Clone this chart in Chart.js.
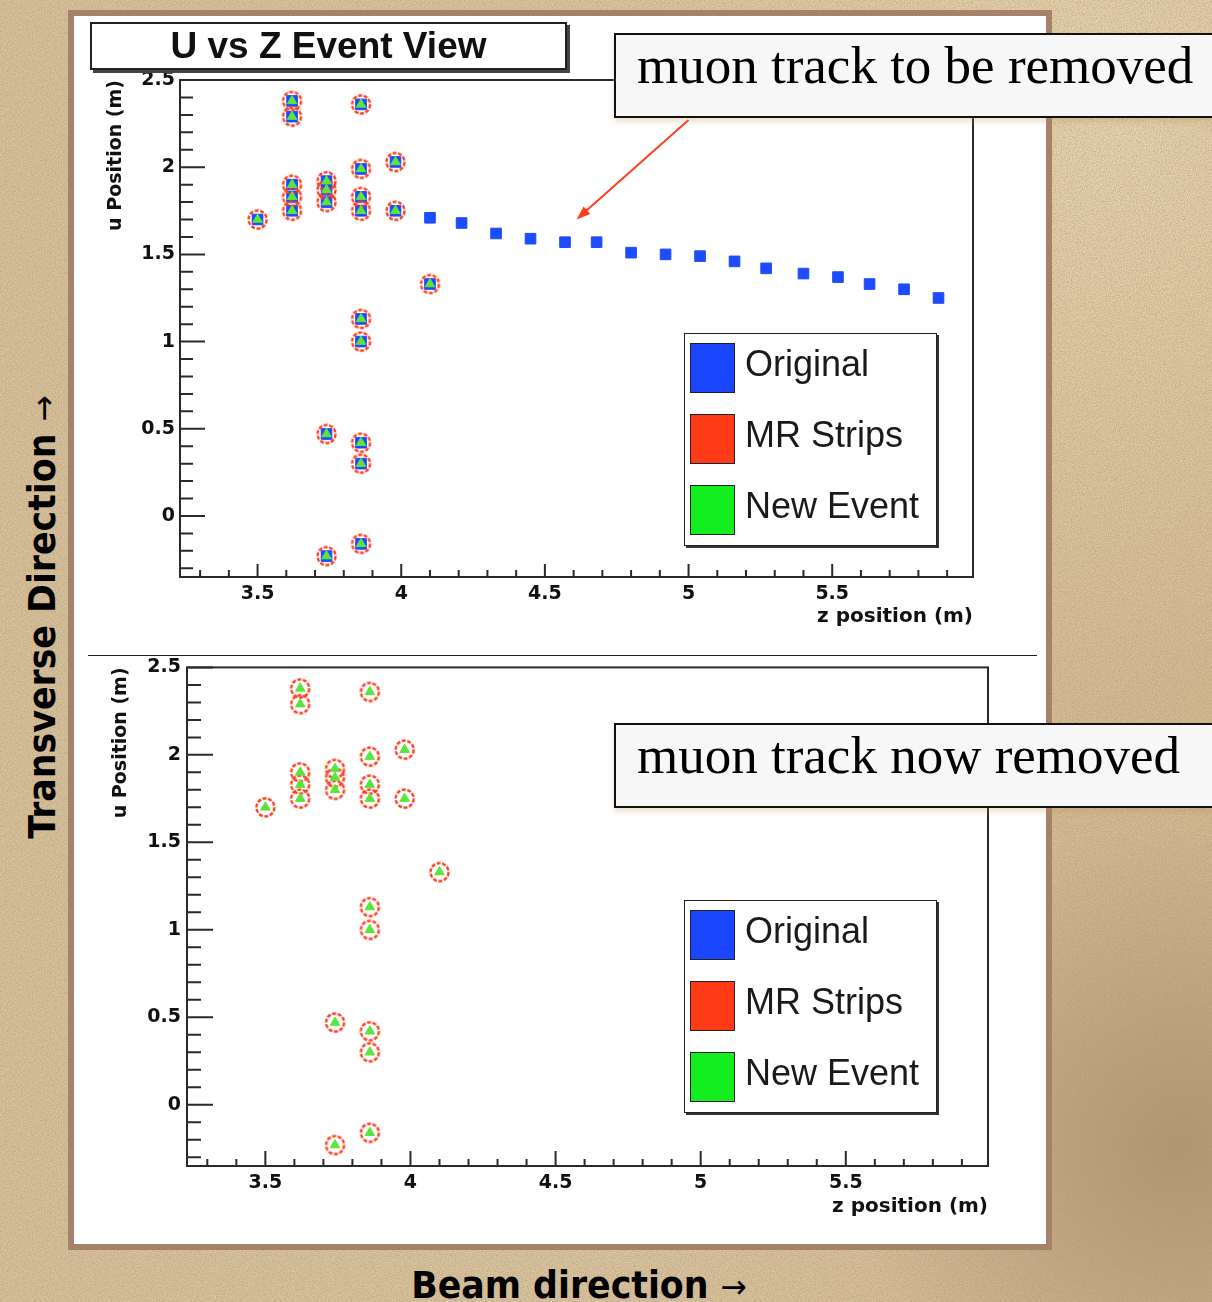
<!DOCTYPE html>
<html>
<head>
<meta charset="utf-8">
<title>U vs Z Event View</title>
<script src="https://cdn.jsdelivr.net/npm/chart.js@4.4.1/dist/chart.umd.min.js"></script>
<style>
  html, body { margin: 0; padding: 0; }
  body {
    width: 1212px; height: 1302px; position: relative; overflow: hidden;
    background-color: #d7c09a;
    background-image:
      url("data:image/svg+xml,<svg xmlns='http://www.w3.org/2000/svg' width='240' height='240'><filter id='f'><feTurbulence type='fractalNoise' baseFrequency='0.8' numOctaves='3' stitchTiles='stitch'/><feColorMatrix type='matrix' values='0 0 0 0 0.42  0 0 0 0 0.3  0 0 0 0 0.17  0 0 0 1.1 -0.36'/></filter><rect width='240' height='240' filter='url(%23f)'/></svg>"),
      radial-gradient(ellipse at 92% 8%, rgba(238,220,186,0.8), rgba(238,220,186,0) 35%),
      radial-gradient(ellipse at 97% 88%, rgba(110,82,55,0.35), rgba(110,82,55,0) 20%),
      linear-gradient(90deg, #d8c29c, #dbc5a1 50%, #d3bb93);
  }
  .panel {
    position: absolute; left: 68px; top: 10px; width: 972px; height: 1228px;
    background: #fff; border: 6px solid #a7826a;
  }
  .divider {
    position: absolute; left: 88px; top: 655px; width: 949px; height: 0;
    border-top: 1.5px solid #222;
  }
  canvas { position: absolute; }
  #topChart { left: 75px; top: 16px; }
  #bottomChart { left: 75px; top: 650px; }
  .title-box {
    position: absolute; left: 90px; top: 22px; width: 477px; height: 48px;
    box-sizing: border-box; border: 2px solid #222; box-shadow: 3px 3px 0 #444;
    background: #fff; text-align: center;
    font: bold 37px 'Liberation Sans', Arial, sans-serif; line-height: 44px; color: #111;
  }
  .note {
    position: absolute; left: 614px; width: 640px; height: 85px; box-sizing: border-box;
    border: 2.5px solid #111; background: #f7f7f7;
    box-shadow: 0 4px 5px rgba(190, 140, 70, 0.25);
    padding-left: 21px; line-height: 80px; white-space: nowrap;
    font: 53px 'Liberation Serif', 'Times New Roman', serif; color: #000;
  }
  .legend {
    position: absolute; left: 684px; width: 253px; height: 213px; box-sizing: border-box;
    border: 1.5px solid #222; box-shadow: 2px 2px 0 #333; background: #fff;
  }
  .entry { position: absolute; left: 5px; height: 50px; }
  .swatch {
    position: absolute; left: 0; top: 0; width: 45px; height: 50px; box-sizing: border-box;
    border: 1.5px solid #222;
  }
  .label {
    position: absolute; left: 55px; top: 0; line-height: 50px; white-space: nowrap;
    font: 36px 'Liberation Sans', Arial, sans-serif; color: #1a1a1a;
  }
  .side {
    position: absolute; white-space: nowrap; color: #000;
    font: bold 37px 'DejaVu Sans', Verdana, sans-serif;
  }
  .side .arr { font-weight: normal; font-size: 0.9em; }
  #transverse { left: 42px; top: 617px; transform: translate(-50%, -50%) rotate(-90deg) scaleX(0.94); }
  #beam { left: 579px; top: 1285px; transform: translate(-50%, -50%) scaleX(0.94); }
</style>
</head>
<body>
<div class="panel"></div>
<div class="divider"></div>
<canvas id="topChart" width="970" height="636"></canvas>
<canvas id="bottomChart" width="970" height="593"></canvas>
<div class="title-box">U vs Z Event View</div>
<div class="legend" id="topLegend" style="top:333px"></div>
<div class="legend" id="bottomLegend" style="top:900px"></div>
<div class="note" style="top:33px">muon track to be removed</div>
<div class="note" style="top:723px">muon track now removed</div>
<div class="side" id="transverse">Transverse Direction <span class="arr">→</span></div>
<div class="side" id="beam">Beam direction <span class="arr">→</span></div>

<script>
// strip hits of the neutrino event: z along the beam, u across it (metres)
const hitZ = [3.50, 3.62, 3.62, 3.62, 3.62, 3.62, 3.74, 3.74, 3.74, 3.74, 3.74,
              3.86, 3.86, 3.86, 3.86, 3.86, 3.86, 3.86, 3.86, 3.86, 3.98, 3.98, 4.10];
const hitU = [1.70, 2.38, 2.29, 1.90, 1.83, 1.75, 1.92, 1.87, 1.80, 0.47, -0.23,
              2.36, 1.99, 1.83, 1.75, 1.13, 1.00, 0.42, 0.30, -0.16, 2.03, 1.75, 1.33];
// the muon track, one hit per plane
const trackZ = [4.10, 4.21, 4.33, 4.45, 4.57, 4.68, 4.80, 4.92, 5.04, 5.16, 5.27, 5.40, 5.52, 5.63, 5.75, 5.87];
const trackU = [1.71, 1.68, 1.62, 1.59, 1.57, 1.57, 1.51, 1.50, 1.49, 1.46, 1.42, 1.39, 1.37, 1.33, 1.30, 1.25];

const seriesNames = ["Original", "MR Strips", "New Event"];
const legendColors = ["#1b46ff", "#ff3a16", "#14ee1e"];
const markerColors = ["#1d4cff", "#ff3d1c", "#5ee23c"];

const zTicks = [3.5, 4, 4.5, 5, 5.5];
const uTicks = [0, 0.5, 1, 1.5, 2, 2.5];
const zRange = [3.23, 5.99];
const uRange = [-0.35, 2.5];

const pairs = (xs, ys) => xs.map((x, i) => ({ x: x, y: ys[i] }));

// open circle marker with a broken outline
function ringMarker(color, r) {
    const c = document.createElement("canvas");
    const s = Math.ceil(r * 2 + 5);
    c.width = s;
    c.height = s;
    const g = c.getContext("2d");
    g.strokeStyle = color;
    g.lineWidth = 2.4;
    g.setLineDash([4, 1.6]);
    g.beginPath();
    g.arc(s / 2, s / 2, r, 0, Math.PI * 2);
    g.stroke();
    return c;
}
const ring = ringMarker(markerColors[1], 9);

// frame box plus inward major/minor ticks, drawn from the scales
const frameTicks = {
    id: "frameTicks",
    beforeDatasetsDraw(chart, args, opts) {
        const { ctx, chartArea: a, scales } = chart;
        ctx.save();
        ctx.strokeStyle = "#2a2a2a";
        ctx.lineWidth = 2;
        ctx.strokeRect(a.left, a.top, a.right - a.left, a.bottom - a.top);
        ctx.beginPath();
        const xs = scales.x;
        for (let k = Math.ceil(xs.min * 10); k <= Math.floor(xs.max * 10); k++) {
            const px = xs.getPixelForValue(k / 10);
            const len = k % 5 === 0 ? opts.xMajor : opts.xMinor;
            ctx.moveTo(px, a.bottom);
            ctx.lineTo(px, a.bottom - len);
        }
        const ys = scales.y;
        for (let k = Math.ceil(ys.min * 10); k <= Math.floor(ys.max * 10); k++) {
            const py = ys.getPixelForValue(k / 10);
            const len = k % 5 === 0 ? opts.yMajor : opts.yMinor;
            ctx.moveTo(a.left, py);
            ctx.lineTo(a.left + len, py);
        }
        ctx.stroke();
        ctx.restore();
    },
    afterDatasetsDraw(chart, args, opts) {
        if (!opts.arrow) return;
        const { ctx, scales } = chart;
        const x0 = scales.x.getPixelForValue(opts.arrow.from[0]);
        const y0 = scales.y.getPixelForValue(opts.arrow.from[1]);
        const x1 = scales.x.getPixelForValue(opts.arrow.to[0]);
        const y1 = scales.y.getPixelForValue(opts.arrow.to[1]);
        const ang = Math.atan2(y1 - y0, x1 - x0);
        ctx.save();
        ctx.strokeStyle = "#ff3d1f";
        ctx.fillStyle = "#ff3d1f";
        ctx.lineWidth = 2;
        ctx.beginPath();
        ctx.moveTo(x0, y0);
        ctx.lineTo(x1 - 10 * Math.cos(ang), y1 - 10 * Math.sin(ang));
        ctx.stroke();
        ctx.beginPath();
        ctx.moveTo(x1, y1);
        ctx.lineTo(x1 - 14 * Math.cos(ang) + 5 * Math.sin(ang), y1 - 14 * Math.sin(ang) - 5 * Math.cos(ang));
        ctx.lineTo(x1 - 14 * Math.cos(ang) - 5 * Math.sin(ang), y1 - 14 * Math.sin(ang) + 5 * Math.cos(ang));
        ctx.closePath();
        ctx.fill();
        ctx.restore();
    }
};

function makeDatasets(withTrack) {
    return [
        {
            label: seriesNames[0],
            legendColor: legendColors[0],
            data: withTrack ? pairs(hitZ.concat(trackZ), hitU.concat(trackU)) : [],
            pointStyle: "rect",
            pointRadius: 7.5,
            backgroundColor: markerColors[0],
            borderColor: markerColors[0],
            borderWidth: 1,
            order: 3
        },
        {
            label: seriesNames[1],
            legendColor: legendColors[1],
            data: pairs(hitZ, hitU),
            pointStyle: ring,
            pointRadius: 9,
            backgroundColor: "rgba(0,0,0,0)",
            borderColor: markerColors[1],
            order: 2
        },
        {
            label: seriesNames[2],
            legendColor: legendColors[2],
            data: pairs(hitZ, hitU),
            pointStyle: "triangle",
            pointRadius: 5.5,
            backgroundColor: markerColors[2],
            borderColor: markerColors[2],
            borderWidth: 1,
            order: 1
        }
    ];
}

const tickFont = { family: "'DejaVu Sans', sans-serif", weight: "bold", size: 19 };
const plainNumber = (v) => String(v);

function makeChart(id, datasets, g) {
    return new Chart(document.getElementById(id), {
        type: "scatter",
        data: { datasets: datasets },
        options: {
            responsive: false,
            animation: false,
            devicePixelRatio: 1,
            events: [],
            layout: { padding: { top: g.top, right: g.right, left: 0, bottom: 0 } },
            scales: {
                x: {
                    type: "linear",
                    position: "bottom",
                    min: zRange[0],
                    max: zRange[1],
                    grid: { display: false, drawTicks: false },
                    border: { display: false },
                    ticks: { padding: 6, font: tickFont, color: "#111", maxRotation: 0, autoSkip: false, callback: plainNumber },
                    afterBuildTicks: (s) => { s.ticks = zTicks.map((v) => ({ value: v })); },
                    afterFit: (s) => { s.height = g.xAxisH; },
                    title: {
                        display: true,
                        text: "z position (m)",
                        align: "end",
                        color: "#111",
                        font: { family: "'DejaVu Sans', sans-serif", weight: "bold", size: 20 },
                        padding: { top: 0, bottom: g.xTitlePad }
                    }
                },
                y: {
                    type: "linear",
                    position: "left",
                    min: uRange[0],
                    max: uRange[1],
                    grid: { display: false, drawTicks: false },
                    border: { display: false },
                    ticks: { padding: g.yLabelPad, font: tickFont, color: "#111", autoSkip: false, callback: plainNumber },
                    afterBuildTicks: (s) => { s.ticks = uTicks.map((v) => ({ value: v })); },
                    afterFit: (s) => { s.width = g.yAxisW; },
                    title: {
                        display: true,
                        text: "u Position (m)",
                        align: "end",
                        color: "#111",
                        font: { family: "'DejaVu Sans', sans-serif", weight: "bold", size: 19 },
                        padding: g.yTitlePad
                    }
                }
            },
            plugins: {
                legend: { display: false },
                tooltip: { enabled: false },
                frameTicks: g.ticks
            }
        },
        plugins: [frameTicks]
    });
}

function buildLegend(chart, boxId) {
    const box = document.getElementById(boxId);
    chart.data.datasets.forEach((ds, i) => {
        const row = document.createElement("div");
        row.className = "entry";
        row.style.top = (9 + i * 71) + "px";
        const sw = document.createElement("span");
        sw.className = "swatch";
        sw.style.background = ds.legendColor;
        const tx = document.createElement("span");
        tx.className = "label";
        tx.textContent = ds.label;
        row.appendChild(sw);
        row.appendChild(tx);
        box.appendChild(row);
    });
}

const topChart = makeChart("topChart", makeDatasets(true), {
    top: 64, right: 72, xAxisH: 75, yAxisW: 105,
    xTitlePad: 23, yTitlePad: 30, yLabelPad: 5,
    ticks: { xMajor: 13, xMinor: 7, yMajor: 25, yMinor: 13, arrow: { from: [5.0, 2.27], to: [4.61, 1.70] } }
});

const bottomChart = makeChart("bottomChart", makeDatasets(false), {
    top: 15, right: 57, xAxisH: 77, yAxisW: 112,
    xTitlePad: 24, yTitlePad: 35, yLabelPad: 6,
    ticks: { xMajor: 15, xMinor: 7, yMajor: 26, yMinor: 14 }
});

buildLegend(topChart, "topLegend");
buildLegend(bottomChart, "bottomLegend");
</script>
</body>
</html>
